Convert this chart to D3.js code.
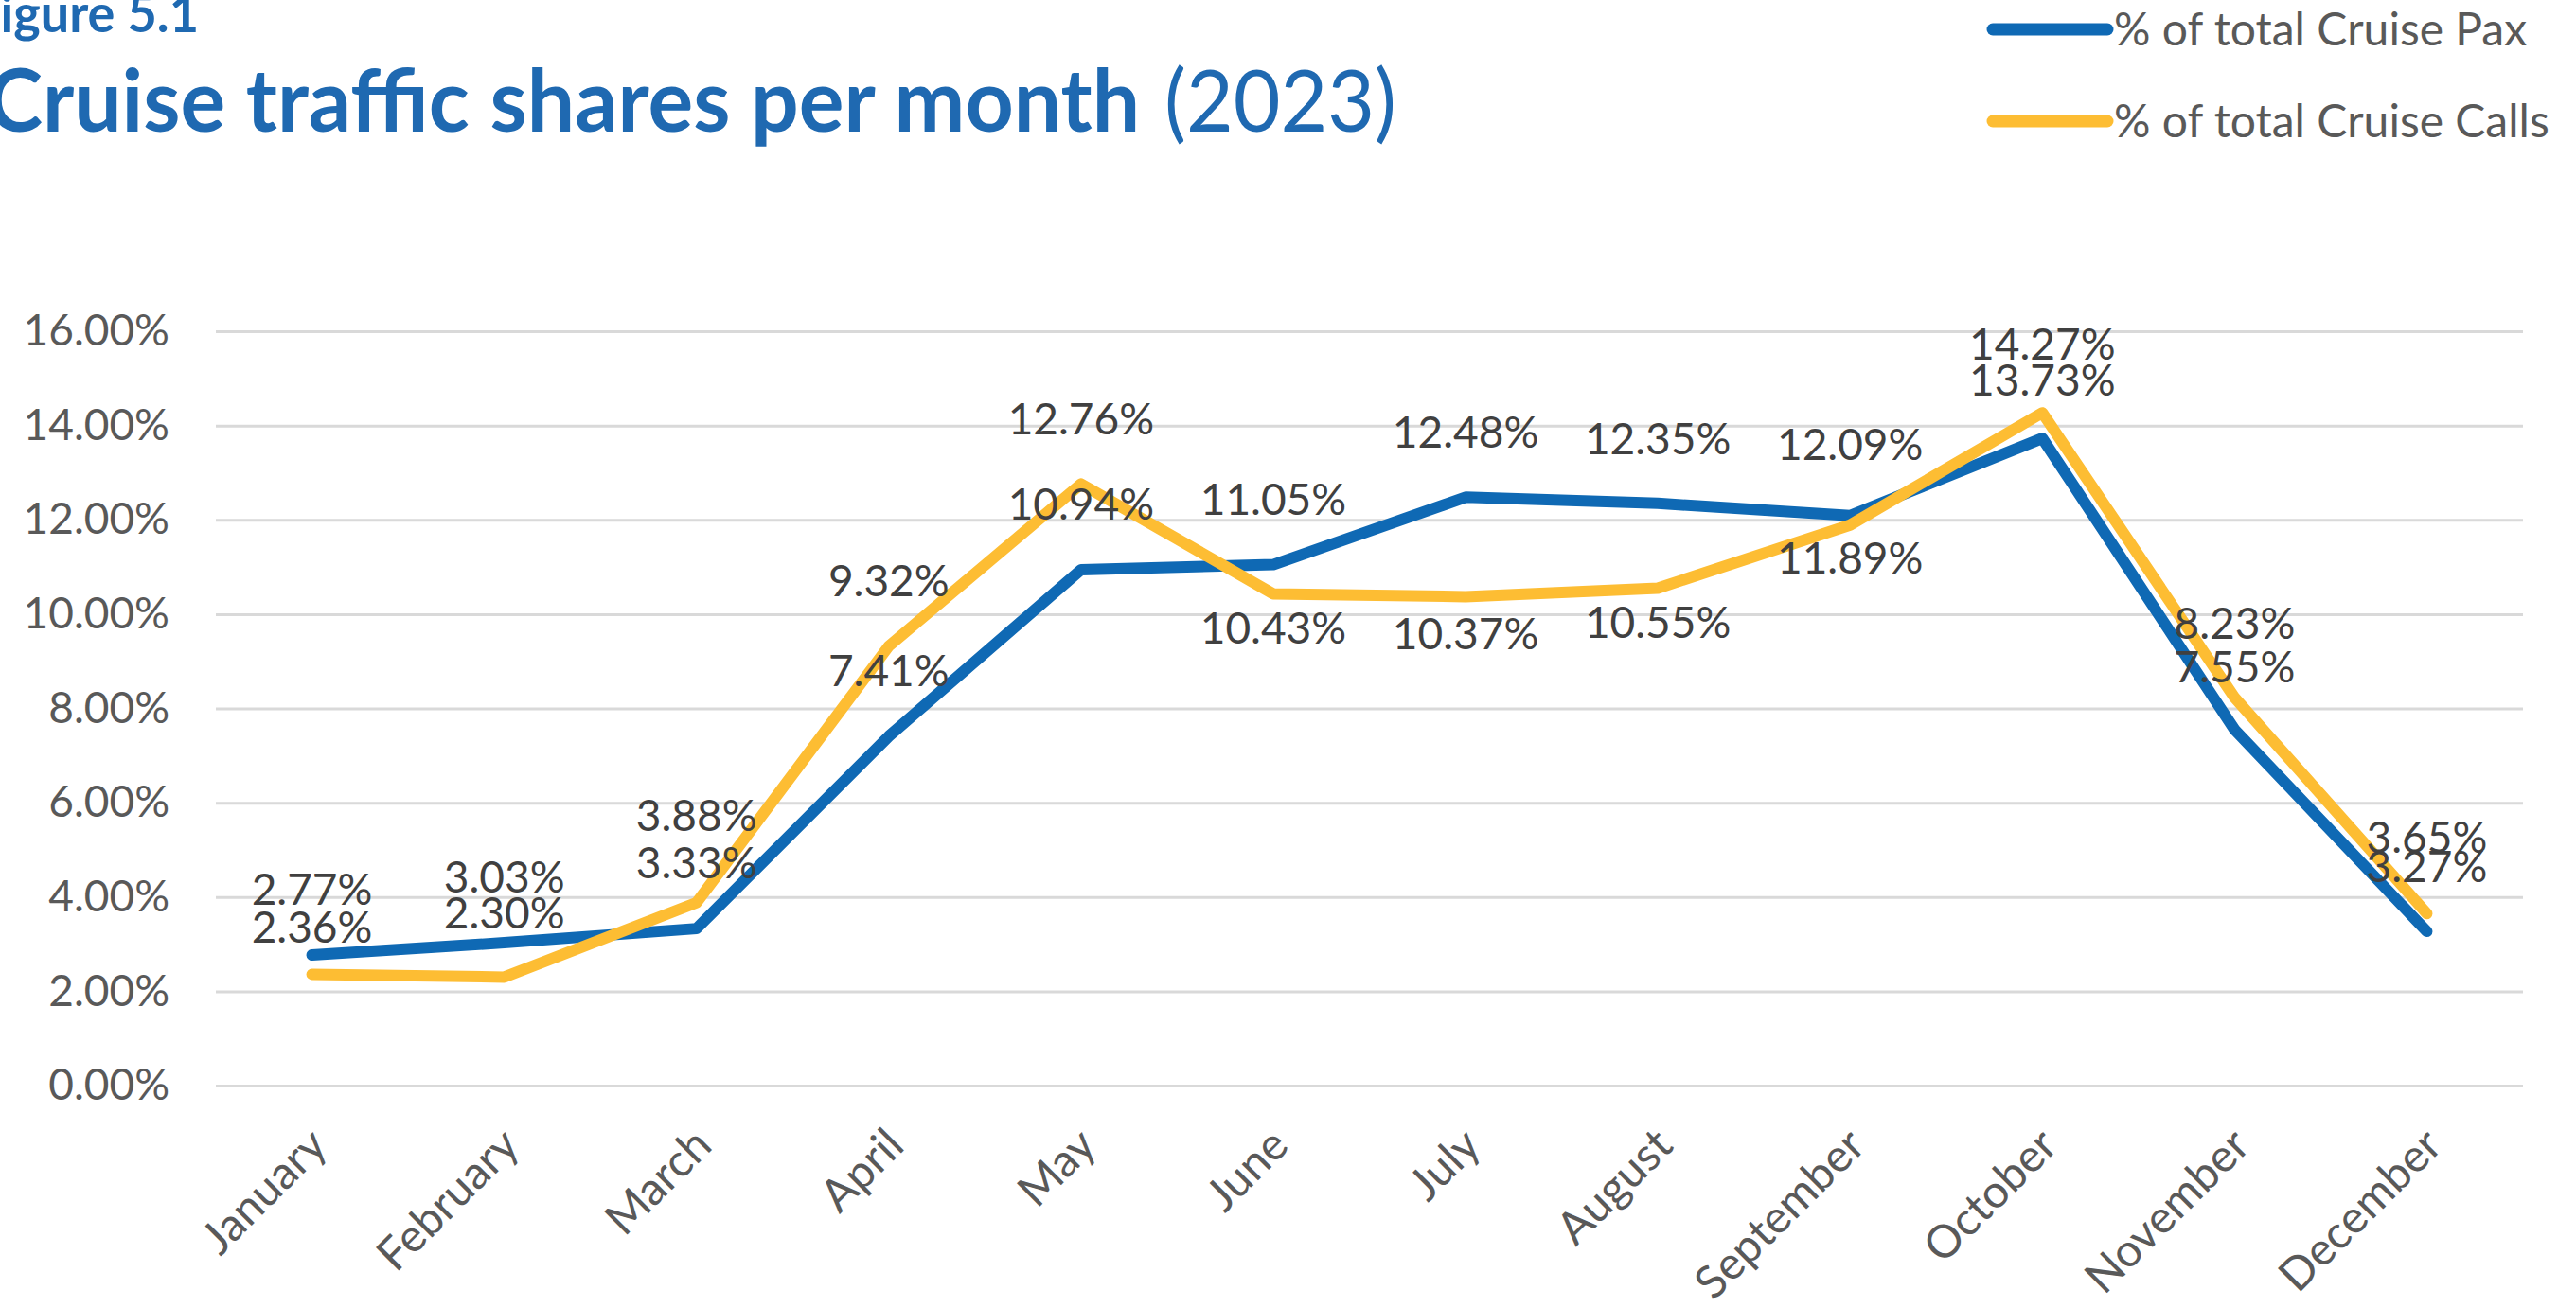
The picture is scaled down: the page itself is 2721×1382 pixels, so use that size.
<!DOCTYPE html>
<html>
<head>
<meta charset="utf-8">
<script src="https://cdnjs.cloudflare.com/ajax/libs/d3/7.8.5/d3.min.js"></script>
<style>
    html, body { margin: 0; padding: 0; background: #ffffff; overflow: hidden; }
    svg { display: block; }
</style>
</head>
<body>
<svg id="chart"></svg>
<script>
// chart data
var months = ["January", "February", "March", "April", "May", "June",
    "July", "August", "September", "October", "November", "December"];
var paxShare = [2.77, 3.03, 3.33, 7.41, 10.94, 11.05, 12.48, 12.35, 12.09, 13.73, 7.55, 3.27];
var callShare = [2.36, 2.30, 3.88, 9.32, 12.76, 10.43, 10.37, 10.55, 11.89, 14.27, 8.23, 3.65];
var yTicks = [0, 2, 4, 6, 8, 10, 12, 14, 16];
var seriesNames = ["% of total Cruise Pax", "% of total Cruise Calls"];

// label placement (vertical offset of each value label from its point, px)
var paxLabelDy = [-69, -69, -69, -69, -69, -69, -68, -68, -75, -61, -66, -68];
var callLabelDy = [-50, -68, -92, -69, -68, 36, 39, 36, 35, -72, -78, -80];

var opts = {
    width: 2721,
    height: 1382,
    plot: { left: 228, right: 2665, top: 350, bottom: 1147 },
    colors: { pax: "#0f69b4", calls: "#fdbd33", title: "#1f69b1", label: "#404040", axis: "#595959", grid: "#d9d9d9" },
    font: "Lato, 'Open Sans', sans-serif"
};

var svg = d3.select("#chart")
        .attr("width", opts.width)
        .attr("height", opts.height);

var x = d3.scalePoint()
        .domain(months)
        .range([opts.plot.left, opts.plot.right])
        .padding(0.5);

var y = d3.scaleLinear()
        .domain([0, 16])
        .range([opts.plot.bottom, opts.plot.top]);

// title block (the page crop cuts the left edge, as in the source)
svg.append("text")
        .attr("x", -30)
        .attr("y", 34)
        .attr("textLength", 240)
        .attr("lengthAdjust", "spacingAndGlyphs")
        .attr("font-family", opts.font)
        .attr("font-weight", 700)
        .attr("font-size", "56px")
        .attr("fill", opts.colors.title)
        .text("Figure 5.1");

svg.append("text")
        .attr("x", -14)
        .attr("y", 139)
        .attr("textLength", 1218)
        .attr("lengthAdjust", "spacingAndGlyphs")
        .attr("font-family", opts.font)
        .attr("font-weight", 700)
        .attr("font-size", "92px")
        .attr("fill", opts.colors.title)
        .text("Cruise traffic shares per month");

svg.append("text")
        .attr("x", 1230)
        .attr("y", 139)
        .attr("textLength", 245)
        .attr("lengthAdjust", "spacingAndGlyphs")
        .attr("font-family", opts.font)
        .attr("font-weight", 400)
        .attr("font-size", "92px")
        .attr("fill", opts.colors.title)
        .text("(2023)");

// y axis with gridlines
var yAxis = svg.append("g")
        .attr("transform", "translate(" + opts.plot.left + ",0)")
        .call(d3.axisLeft(y)
            .tickValues(yTicks)
            .tickSize(-(opts.plot.right - opts.plot.left))
            .tickPadding(49)
            .tickFormat(function(d) { return d.toFixed(2) + "%"; }));

yAxis.select(".domain").remove();
yAxis.selectAll(".tick line")
        .attr("stroke", opts.colors.grid)
        .attr("stroke-width", 3);
yAxis.selectAll(".tick text")
        .attr("font-family", opts.font)
        .attr("font-size", "46px")
        .attr("fill", opts.colors.axis);

// x axis, rotated month names
var xAxis = svg.append("g")
        .attr("transform", "translate(0," + opts.plot.bottom + ")")
        .call(d3.axisBottom(x).tickSize(0));

xAxis.select(".domain").remove();
xAxis.selectAll(".tick text")
        .attr("x", 0)
        .attr("y", 0)
        .attr("dy", "0.35em")
        .attr("transform", "translate(6,54) rotate(-45)")
        .attr("text-anchor", "end")
        .attr("font-family", opts.font)
        .attr("font-size", "48px")
        .attr("fill", opts.colors.axis);

// the two lines
var line = d3.line()
        .x(function(d, i) { return x(months[i]); })
        .y(function(d) { return y(d); });

var series = [
    { values: paxShare, color: opts.colors.pax, dy: paxLabelDy },
    { values: callShare, color: opts.colors.calls, dy: callLabelDy }
];

series.forEach(function(s) {
    svg.append("path")
            .datum(s.values)
            .attr("d", line)
            .attr("fill", "none")
            .attr("stroke", s.color)
            .attr("stroke-width", 12)
            .attr("stroke-linejoin", "round")
            .attr("stroke-linecap", "round");
});

// value labels drawn on top of both lines
series.forEach(function(s) {
    svg.append("g").selectAll("text").data(s.values).enter()
            .append("text")
            .attr("x", function(d, i) { return x(months[i]); })
            .attr("y", function(d, i) { return y(d) + s.dy[i]; })
            .attr("dy", "0.35em")
            .attr("text-anchor", "middle")
            .attr("font-family", opts.font)
            .attr("font-size", "46px")
            .attr("fill", opts.colors.label)
            .text(function(d) { return d.toFixed(2) + "%"; });
});

// legend, top right
var legend = svg.append("g").selectAll("g").data(seriesNames).enter()
        .append("g")
        .attr("transform", function(d, i) { return "translate(2105," + (31 + i * 97) + ")"; });

legend.append("line")
        .attr("x1", 0)
        .attr("x2", 121)
        .attr("stroke", function(d, i) { return i === 0 ? opts.colors.pax : opts.colors.calls; })
        .attr("stroke-width", 13)
        .attr("stroke-linecap", "round");

legend.append("text")
        .attr("x", 128)
        .attr("dy", "0.35em")
        .attr("font-family", opts.font)
        .attr("font-size", "48px")
        .attr("fill", opts.colors.axis)
        .text(function(d) { return d; });
</script>
</body>
</html>
